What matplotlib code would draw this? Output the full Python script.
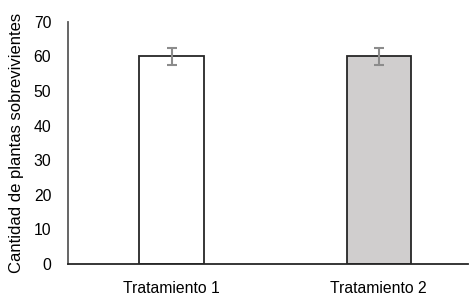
import matplotlib.pyplot as plt
import numpy as np

plt.rcParams['font.family'] = ['Liberation Sans', 'DejaVu Sans']

labels = ['Tratamiento 1', 'Tratamiento 2']
values = [60, 60]
errors = [2.5, 2.5]
colors = ['#ffffff', '#d0cece']

fig = plt.figure(figsize=(4.75, 3.04), dpi=100, facecolor='w')
ax = fig.add_axes([0.143, 0.132, 0.842, 0.796])

xPos = np.arange(len(labels))
ax.bar(xPos, values, width=0.31, color=colors, edgecolor='#262626', linewidth=1.3, zorder=2)
ax.errorbar(xPos, values, yerr=errors, fmt='none', ecolor='#8c8c8c', elinewidth=1.5,
            capsize=3.3, capthick=1.5, zorder=3)

ax.set_xlim(-0.5, 1.43)
ax.set_ylim(0, 70)
ax.set_yticks(np.arange(0, 71, 10))
ax.set_xticks(xPos)
ax.set_xticklabels(labels)
ax.tick_params(axis='both', length=0, labelsize=11.3, colors='black')
ax.tick_params(axis='y', pad=12)
ax.tick_params(axis='x', pad=12)

for s in ['top', 'right']:
    ax.spines[s].set_visible(False)
ax.spines['left'].set_color('#595959')
ax.spines['left'].set_linewidth(1.3)
ax.spines['bottom'].set_color('#262626')
ax.spines['bottom'].set_linewidth(1.3)

ax.set_ylabel('Cantidad de plantas sobrevivientes', fontsize=12, labelpad=7)

fig.savefig('out.png', dpi=100)
